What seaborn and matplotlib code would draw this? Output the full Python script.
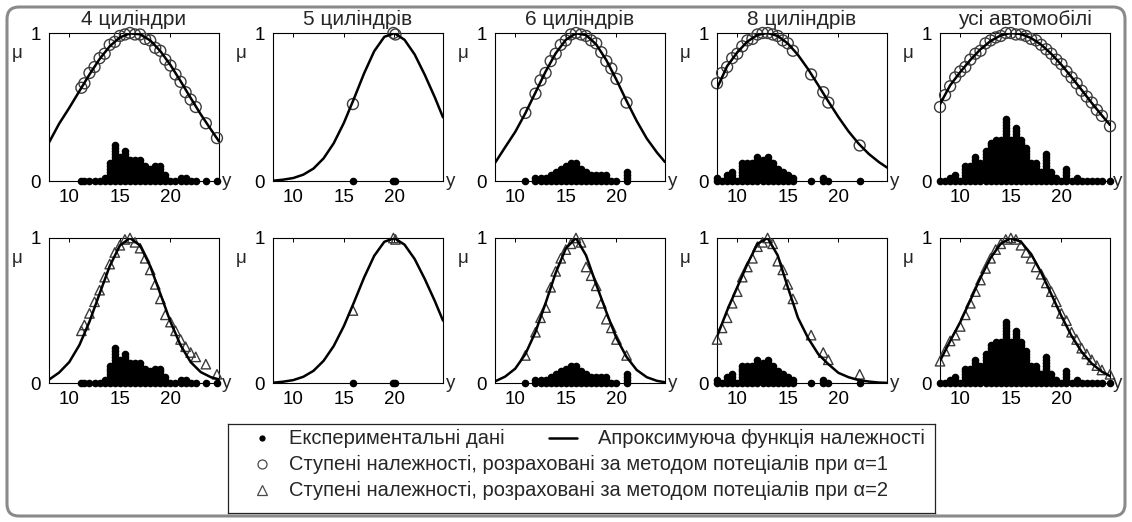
import numpy as np
import pandas as pd
import matplotlib
matplotlib.use("Agg")
import matplotlib.pyplot as plt
import seaborn as sns
from matplotlib.patches import FancyBboxPatch
from matplotlib import font_manager

# ------------------------------------------------------------------ data
titles = ["4 циліндри", "5 циліндрів", "6 циліндрів", "8 циліндрів", "усі автомобілі"]
x_ticks = [10, 15, 20]
y_ticks = [0, 1]
x_range = [8.0, 24.8]
legend_labels = [
    "Експериментальні дані",
    "Апроксимуюча функція належності",
    "Ступені належності, розраховані за методом потеціалів при α=1",
    "Ступені належності, розраховані за методом потеціалів при α=2",
]

# grid on which the approximating membership functions were read
grid_x = [8, 9, 10, 11, 12, 13, 14, 15, 16, 17, 18, 19, 20, 21, 22, 23, 24, 24.8]

# --- 4 cylinders
acc_4 = [11.2, 11.5, 12, 12.5, 13, 13.5, 14, 14.5, 15, 15.5, 16, 16.5, 17, 17.5, 18,
         18.5, 19, 19.5, 20, 20.5, 21, 21.5, 22, 22.5, 23.5, 24.6]
cnt_4 = [1, 1, 1, 1, 1, 2, 7, 13, 9, 11, 8, 8, 8, 6, 5, 6, 6, 3, 1, 1, 2, 2, 1, 1, 1, 1]
mu1_4 = [0.63, 0.66, 0.73, 0.77, 0.83, 0.86, 0.92, 0.94, 0.98, 0.99, 1.00, 0.99, 0.99,
         0.96, 0.95, 0.90, 0.88, 0.82, 0.78, 0.72, 0.67, 0.60, 0.55, 0.50, 0.39, 0.29]
mu2_4 = [0.36, 0.40, 0.48, 0.56, 0.64, 0.73, 0.82, 0.90, 0.95, 0.99, 1.00, 0.97, 0.93,
         0.86, 0.78, 0.68, 0.58, 0.47, 0.42, 0.36, 0.30, 0.25, 0.21, 0.18, 0.13, 0.06]
fit1_4 = [0.26, 0.387, 0.494, 0.607, 0.720, 0.824, 0.910, 0.970, 0.998, 0.991, 0.950,
          0.878, 0.784, 0.675, 0.561, 0.450, 0.348, 0.268]
fit2_4 = [0.023, 0.072, 0.144, 0.261, 0.423, 0.616, 0.806, 0.948, 1.0, 0.948, 0.806,
          0.616, 0.423, 0.261, 0.144, 0.075, 0.040, 0.025]

# --- 5 cylinders
acc_5 = [15.9, 19.9, 20.1]
cnt_5 = [1, 1, 1]
mu1_5 = [0.52, 1.00, 0.99]
mu2_5 = [0.50, 1.00, 0.99]
fit1_5 = [0.002, 0.009, 0.020, 0.043, 0.084, 0.153, 0.255, 0.392, 0.556, 0.727, 0.877,
          0.974, 0.999, 0.954, 0.855, 0.717, 0.564, 0.430]
fit2_5 = [0.002, 0.009, 0.020, 0.043, 0.084, 0.153, 0.255, 0.392, 0.556, 0.727, 0.877,
          0.974, 0.999, 0.954, 0.855, 0.717, 0.564, 0.430]

# --- 6 cylinders
acc_6 = [11, 12, 12.5, 13, 13.5, 14, 14.5, 15, 15.5, 16, 16.5, 17, 17.5, 18, 18.5, 19,
         19.5, 20, 21]
cnt_6 = [1, 2, 2, 2, 3, 4, 5, 6, 7, 7, 5, 4, 3, 3, 3, 3, 1, 1, 4]
mu1_6 = [0.46, 0.59, 0.68, 0.73, 0.81, 0.86, 0.92, 0.95, 0.99, 1.00, 0.99, 0.98, 0.95,
         0.93, 0.87, 0.81, 0.76, 0.69, 0.53]
mu2_6 = [0.19, 0.35, 0.45, 0.52, 0.66, 0.77, 0.86, 0.92, 0.96, 1.00, 0.97, 0.80, 0.74,
         0.67, 0.55, 0.44, 0.38, 0.30, 0.19]
fit1_6 = [0.122, 0.228, 0.332, 0.458, 0.598, 0.739, 0.863, 0.954, 0.998, 0.986, 0.923,
          0.817, 0.684, 0.541, 0.406, 0.287, 0.193, 0.128]
fit2_6 = [0.011, 0.044, 0.099, 0.199, 0.352, 0.551, 0.760, 0.928, 1.0, 0.88, 0.68, 0.49,
          0.31, 0.18, 0.09, 0.04, 0.015, 0.005]

# --- 8 cylinders
acc_8 = [8, 8.5, 9, 9.5, 10, 10.5, 11, 11.5, 12, 12.5, 13, 13.5, 14, 14.5, 15, 15.5,
         17.3, 18.5, 19, 22.1]
cnt_8 = [2, 1, 3, 4, 1, 7, 7, 7, 9, 8, 9, 7, 5, 4, 3, 2, 1, 2, 1, 1]
mu1_8 = [0.66, 0.73, 0.77, 0.83, 0.86, 0.91, 0.95, 0.96, 0.99, 1.00, 1.00, 0.99, 0.98,
         0.95, 0.93, 0.88, 0.72, 0.60, 0.53, 0.24]
mu2_8 = [0.30, 0.38, 0.45, 0.55, 0.63, 0.73, 0.80, 0.86, 0.94, 0.97, 1.00, 0.96, 0.84,
         0.78, 0.68, 0.58, 0.33, 0.21, 0.16, 0.06]
fit1_8 = [0.626, 0.776, 0.869, 0.942, 0.987, 1.0, 0.980, 0.929, 0.852, 0.756, 0.648,
          0.538, 0.432, 0.335, 0.252, 0.183, 0.128, 0.091]
fit2_8 = [0.32, 0.50, 0.66, 0.82, 0.96, 1.0, 0.88, 0.66, 0.45, 0.31, 0.20, 0.13, 0.07,
          0.04, 0.02, 0.01, 0.003, 0.001]

# --- all cars
acc_all = [8, 8.5, 9, 9.5, 10, 10.5, 11, 11.5, 12, 12.5, 13, 13.5, 14, 14.5, 15, 15.5,
           16, 16.5, 17, 17.5, 18, 18.5, 19, 19.5, 20, 20.5, 21, 21.5, 22, 22.5, 23,
           23.5, 24, 24.8]
cnt_all = [1, 1, 2, 3, 1, 6, 6, 9, 7, 11, 14, 15, 15, 22, 15, 19, 15, 12, 7, 7, 4, 10,
           4, 2, 1, 5, 1, 2, 1, 1, 1, 1, 1, 1]
mu1_all = [0.50, 0.58, 0.64, 0.70, 0.74, 0.77, 0.82, 0.86, 0.88, 0.93, 0.95, 0.97, 0.98,
           1.00, 1.00, 0.99, 0.99, 0.98, 0.96, 0.95, 0.92, 0.89, 0.86, 0.82, 0.79, 0.74,
           0.70, 0.66, 0.61, 0.57, 0.53, 0.48, 0.44, 0.37]
mu2_all = [0.15, 0.22, 0.29, 0.33, 0.39, 0.47, 0.55, 0.63, 0.71, 0.79, 0.86, 0.92, 0.96,
           0.99, 1.00, 0.99, 0.95, 0.90, 0.86, 0.80, 0.75, 0.69, 0.63, 0.56, 0.48, 0.43,
           0.35, 0.30, 0.24, 0.20, 0.16, 0.12, 0.09, 0.06]
fit1_all = [0.519, 0.646, 0.736, 0.818, 0.890, 0.946, 0.984, 1.0, 0.993, 0.966, 0.921,
            0.859, 0.785, 0.702, 0.615, 0.527, 0.443, 0.379]
fit2_all = [0.153, 0.289, 0.420, 0.571, 0.726, 0.863, 0.961, 1.0, 0.974, 0.890, 0.762,
            0.612, 0.461, 0.325, 0.215, 0.134, 0.078, 0.048]

panels = [
    (acc_4, cnt_4, mu1_4, mu2_4, fit1_4, fit2_4),
    (acc_5, cnt_5, mu1_5, mu2_5, fit1_5, fit2_5),
    (acc_6, cnt_6, mu1_6, mu2_6, fit1_6, fit2_6),
    (acc_8, cnt_8, mu1_8, mu2_8, fit1_8, fit2_8),
    (acc_all, cnt_all, mu1_all, mu2_all, fit1_all, fit2_all),
]

# ------------------------------------------------------------------ style
sns.set_style("white")
names = {f.name for f in font_manager.fontManager.ttflist}
base_font = "Liberation Sans" if "Liberation Sans" in names else "DejaVu Sans"
narrow_font = "Liberation Sans Narrow" if "Liberation Sans Narrow" in names else base_font
plt.rcParams["font.family"] = [base_font, "DejaVu Sans"]

DOT_STEP = 0.02          # vertical spacing of stacked experimental points
W, H = 1132, 522
fig = plt.figure(figsize=(W / 100, H / 100), dpi=100)

# rounded outer frame
bg = fig.add_axes([0, 0, 1, 1], zorder=-5)
bg.set_xlim(0, W)
bg.set_ylim(0, H)
bg.axis("off")
bg.add_patch(FancyBboxPatch((7, 6), W - 14, H - 13,
                            boxstyle="round,pad=0,rounding_size=12",
                            fc="white", ec="#8a8a8a", lw=2.2))

lefts_px = [49, 273, 495, 717, 940]
ax_w = 170
rows = [(33, 181), (238, 383)]   # top, bottom in px

for r, (top, bot) in enumerate(rows):
    for c, (acc, cnt, mu1, mu2, fit1, fit2) in enumerate(panels):
        ax = fig.add_axes([lefts_px[c] / W, (H - bot) / H, ax_w / W, (bot - top) / H])
        # stacked experimental points
        dx, dy = [], []
        for xv, n in zip(acc, cnt):
            for k in range(n):
                dx.append(xv)
                dy.append(k * DOT_STEP)
        dots = pd.DataFrame({"x": dx, "y": dy})
        sns.scatterplot(data=dots, x="x", y="y", ax=ax, color="black", s=30,
                        linewidth=0, marker="o", zorder=2, clip_on=False)
        pts = pd.DataFrame({"x": acc, "mu": mu1 if r == 0 else mu2})
        sns.scatterplot(data=pts, x="x", y="mu", ax=ax,
                        marker="o" if r == 0 else "^",
                        s=62 if r == 0 else 46,
                        facecolor="none", edgecolor="#3c3c3c", linewidth=1.0,
                        zorder=3, clip_on=False)
        fit = pd.DataFrame({"x": grid_x, "mu": fit1 if r == 0 else fit2})
        sns.lineplot(data=fit, x="x", y="mu", ax=ax, color="black", lw=1.8,
                     zorder=4, sort=False)
        ax.set_xlim(*x_range)
        ax.set_ylim(0, 1)
        ax.set_xticks(x_ticks)
        ax.set_yticks(y_ticks)
        ax.set_xlabel("")
        ax.set_ylabel("")
        ax.tick_params(direction="in", length=3, width=0.7, top=True, right=True,
                       labelsize=13.5, pad=6, colors="black")
        ax.tick_params(axis="y", pad=6)
        for sp in ax.spines.values():
            sp.set_color("black")
            sp.set_linewidth(0.8)
        ax.text(-0.19, 0.86, "μ", transform=ax.transAxes, fontsize=13.5,
                ha="center", va="center")
        ax.text(1.02, 0.0, "y", transform=ax.transAxes, fontsize=13.5,
                ha="left", va="center")
        if r == 0:
            ax.set_title(titles[c], fontsize=15, pad=6)

# ------------------------------------------------------------------ legend
lx0, ly0, lx1, ly1 = 228, 424, 935, 513
lg = fig.add_axes([lx0 / W, (H - ly1) / H, (lx1 - lx0) / W, (ly1 - ly0) / H])
lg.set_xlim(lx0, lx1)
lg.set_ylim(ly1, ly0)
lg.set_xticks([])
lg.set_yticks([])
for sp in lg.spines.values():
    sp.set_color("#222222")
    sp.set_linewidth(0.9)
row_y = [438, 464, 490]
lg.plot([262], [row_y[0]], "o", color="black", ms=4.5, mew=0)
lg.plot([549, 577], [row_y[0], row_y[0]], "-", color="black", lw=1.8)
lg.plot([262], [row_y[1]], "o", mfc="none", mec="#4a4a4a", ms=6.5, mew=0.9)
lg.plot([262], [row_y[2]], "^", mfc="none", mec="#4a4a4a", ms=6.5, mew=0.9)
lfs = 14.5
lg.text(289, row_y[0], legend_labels[0], fontsize=lfs, va="center", ha="left",
        family=[narrow_font, "DejaVu Sans"])
lg.text(598, row_y[0], legend_labels[1], fontsize=lfs, va="center", ha="left",
        family=[narrow_font, "DejaVu Sans"])
lg.text(289, row_y[1], legend_labels[2], fontsize=lfs, va="center", ha="left",
        family=[narrow_font, "DejaVu Sans"])
lg.text(289, row_y[2], legend_labels[3], fontsize=lfs, va="center", ha="left",
        family=[narrow_font, "DejaVu Sans"])

fig.savefig("out.png", dpi=100)
